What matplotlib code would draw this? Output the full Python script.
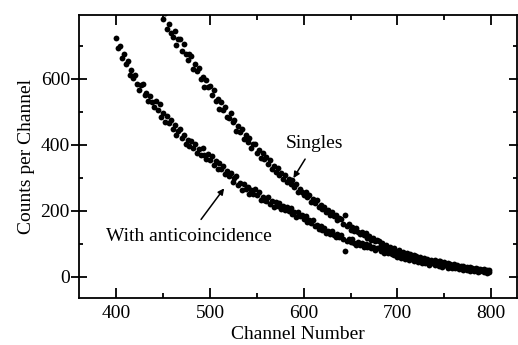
import numpy as np
import matplotlib
matplotlib.use('Agg')
import matplotlib.pyplot as plt
from matplotlib.ticker import MultipleLocator

plt.rcParams['font.family'] = 'Liberation Serif'

# anticoincidence spectrum, every 2nd channel from 400 to 798
anti_channel = np.arange(400, 800, 2)
anti_counts = [
    723, 694, 700, 663, 674, 644, 654, 610, 625, 601,
    612, 584, 566, 582, 583, 550, 557, 532, 548, 529,
    515, 532, 505, 522, 485, 495, 468, 486, 465, 474,
    447, 459, 429, 443, 447, 420, 428, 403, 413, 395,
    412, 390, 401, 374, 388, 370, 391, 368, 356, 371,
    355, 367, 340, 351, 326, 344, 327, 336, 312, 319,
    304, 315, 288, 300, 304, 277, 284, 264, 282, 267,
    273, 252, 263, 250, 265, 247, 256, 233, 243, 233,
    231, 241, 221, 231, 211, 226, 215, 223, 204, 214,
    202, 212, 200, 209, 190, 197, 182, 195, 184, 188,
    175, 184, 166, 173, 163, 171, 153, 158, 144, 153,
    141, 148, 132, 140, 130, 139, 128, 122, 130, 121,
    127, 116, 78, 108, 115, 105, 116, 103, 98, 106,
    97, 103, 91, 99, 92, 98, 86, 91, 82, 87,
    87, 78, 85, 73, 79, 71, 79, 70, 65, 72,
    60, 66, 58, 64, 53, 59, 50, 55, 56, 47,
    52, 44, 49, 43, 49, 41, 46, 36, 41, 42,
    35, 41, 34, 38, 30, 35, 37, 28, 31, 27,
    32, 26, 31, 24, 28, 21, 27, 21, 25, 19,
    23, 17, 22, 16, 19, 20, 14, 17, 12, 15,
]

# singles spectrum, every 2nd channel from 440 to 798
singles_channel = np.arange(440, 800, 2)
singles_counts = [
    850, 815, 840, 802, 812, 780, 798, 750, 766, 738,
    726, 743, 702, 721, 719, 685, 705, 673, 656, 673,
    667, 630, 645, 622, 633, 598, 606, 576, 596, 574,
    578, 549, 567, 533, 538, 509, 530, 506, 513, 483,
    480, 496, 468, 476, 443, 458, 439, 448, 416, 428,
    407, 421, 389, 403, 401, 376, 383, 361, 375, 356,
    364, 342, 355, 327, 336, 317, 331, 309, 313, 296,
    307, 287, 295, 281, 292, 273, 281, 258, 267, 256,
    249, 258, 241, 248, 228, 236, 225, 232, 212, 219,
    205, 213, 196, 202, 186, 196, 183, 187, 171, 177,
    174, 160, 187, 155, 159, 143, 151, 139, 147, 135,
    131, 137, 126, 132, 118, 123, 111, 118, 108, 112,
    108, 98, 104, 92, 96, 86, 92, 83, 88, 79,
    75, 80, 72, 75, 67, 71, 64, 69, 62, 65,
    63, 57, 61, 53, 56, 49, 55, 48, 52, 45,
    50, 43, 47, 47, 40, 44, 37, 41, 40, 34,
    38, 32, 36, 29, 33, 33, 27, 31, 25, 29,
    28, 23, 27, 23, 25, 20, 24, 19, 22, 20,
]

fs = 14
fig = plt.figure(figsize=(5.18, 3.45), dpi=100)
ax = fig.add_axes([0.1525, 0.137, 0.846, 0.82])

ax.plot(anti_channel, anti_counts, 'o', color='black', ms=4.2, mew=0)
ax.plot(singles_channel, singles_counts, 'o', color='black', ms=4.2, mew=0)

ax.set_xlim([360, 828])
ax.set_ylim([-63, 793])
ax.xaxis.set_major_locator(MultipleLocator(100))
ax.xaxis.set_minor_locator(MultipleLocator(50))
ax.yaxis.set_major_locator(MultipleLocator(200))
ax.yaxis.set_minor_locator(MultipleLocator(100))

ax.tick_params(axis='x', which='major', direction='in', length=7, width=1.3,
               top=True, labelsize=fs, pad=5)
ax.tick_params(axis='x', which='minor', direction='in', length=3.5, width=1.3, top=True)
ax.tick_params(axis='y', which='major', direction='inout', length=11, width=1.3,
               right=True, labelsize=fs, pad=1)
ax.tick_params(axis='y', which='minor', direction='in', length=3, width=1.3, right=True)
for s in ax.spines.values():
    s.set_linewidth(1.3)

ax.set_xlabel('Channel Number', fontsize=fs, labelpad=3)
ax.set_ylabel('Counts per Channel', fontsize=fs, labelpad=4)

# labels with arrows
ax.annotate('Singles', xy=(589, 299), xytext=(612, 405), fontsize=fs,
            ha='center', va='center',
            arrowprops=dict(arrowstyle='-|>', color='black', lw=1.1, mutation_scale=9,
                            shrinkA=4, shrinkB=0))
ax.annotate('With anticoincidence', xy=(515, 268), xytext=(477, 123), fontsize=fs,
            ha='center', va='center',
            arrowprops=dict(arrowstyle='-|>', color='black', lw=1.1, mutation_scale=9,
                            shrinkA=5, shrinkB=0))

plt.savefig('out.png', dpi=100)
